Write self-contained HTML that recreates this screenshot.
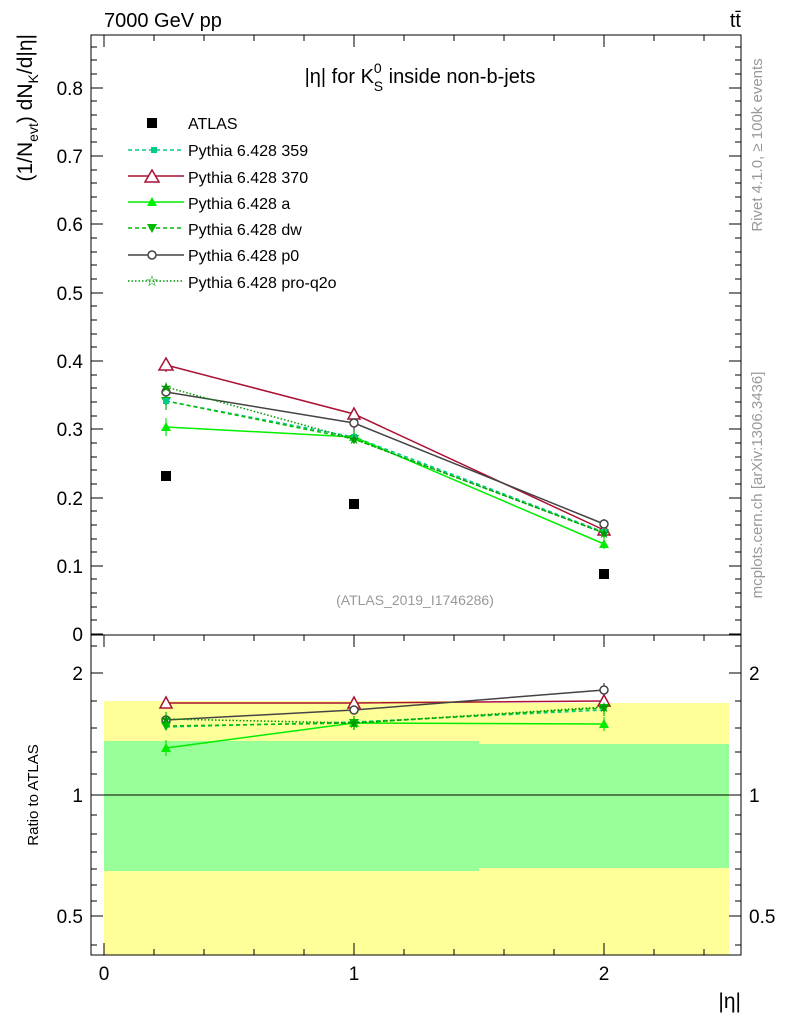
<!DOCTYPE html>
<html><head><style>body{margin:0;background:#fff}svg{display:block}text{font-family:"Liberation Sans",sans-serif}</style></head><body>
<svg width="786" height="1024" xmlns="http://www.w3.org/2000/svg">
<rect x="104" y="701" width="375" height="254" fill="#ffff99"/>
<rect x="479" y="703" width="250" height="252" fill="#ffff99"/>
<rect x="104" y="741" width="375" height="130" fill="#99ff99"/>
<rect x="479" y="744" width="250" height="124" fill="#99ff99"/>
<line x1="91" y1="795" x2="741" y2="795" stroke="#000"/>
<rect x="91" y="35" width="650" height="600" fill="none" stroke="#000"/>
<rect x="91" y="635" width="650" height="320" fill="none" stroke="#000"/>
<g stroke="#000">
<path d="M91,634h12M91,566h12M91,498h12M91,429h12M91,361h12M91,293h12M91,224h12M91,156h12M91,88h12"/>
<path d="M741,634h-12M741,566h-12M741,498h-12M741,429h-12M741,361h-12M741,293h-12M741,224h-12M741,156h-12M741,88h-12"/>
<path d="M91,620h6M91,607h6M91,593h6M91,579h6M91,552h6M91,539h6M91,525h6M91,511h6M91,484h6M91,470h6M91,457h6M91,443h6M91,416h6M91,402h6M91,388h6M91,375h6M91,347h6M91,334h6M91,320h6M91,306h6M91,279h6M91,265h6M91,252h6M91,238h6M91,211h6M91,197h6M91,183h6M91,170h6M91,142h6M91,129h6M91,115h6M91,101h6M91,74h6M91,60h6M91,47h6"/>
<path d="M741,620h-6M741,607h-6M741,593h-6M741,579h-6M741,552h-6M741,539h-6M741,525h-6M741,511h-6M741,484h-6M741,470h-6M741,457h-6M741,443h-6M741,416h-6M741,402h-6M741,388h-6M741,375h-6M741,347h-6M741,334h-6M741,320h-6M741,306h-6M741,279h-6M741,265h-6M741,252h-6M741,238h-6M741,211h-6M741,197h-6M741,183h-6M741,170h-6M741,142h-6M741,129h-6M741,115h-6M741,101h-6M741,74h-6M741,60h-6M741,47h-6"/>
<path d="M91,673h12M91,795h12M91,916h12M741,673h-12M741,795h-12M741,916h-12"/>
<path d="M91,646h6M91,701h6M91,728h6M91,752h6M91,774h6M91,815h6M91,834h6M91,852h6M91,869h6M91,885h6M91,901h6M91,945h6"/>
<path d="M741,646h-6M741,701h-6M741,728h-6M741,752h-6M741,774h-6M741,815h-6M741,834h-6M741,852h-6M741,869h-6M741,885h-6M741,901h-6M741,945h-6"/>
<path d="M104,955v-12M354,955v-12M604,955v-12M104,635v12M354,635v12M604,635v12M104,35v12M354,35v12M604,35v12"/>
<path d="M154,955v-6M204,955v-6M254,955v-6M304,955v-6M404,955v-6M454,955v-6M504,955v-6M554,955v-6M654,955v-6M704,955v-6"/>
<path d="M154,635v6M204,635v6M254,635v6M304,635v6M404,635v6M454,635v6M504,635v6M554,635v6M654,635v6M704,635v6"/>
<path d="M154,35v6M204,35v6M254,35v6M304,35v6M404,35v6M454,35v6M504,35v6M554,35v6M654,35v6M704,35v6"/>
</g>
<g font-size="19" text-anchor="end">
<text x="83" y="641">0</text><text x="83" y="573">0.1</text><text x="83" y="505">0.2</text><text x="83" y="436">0.3</text><text x="83" y="368">0.4</text><text x="83" y="300">0.5</text><text x="83" y="231">0.6</text><text x="83" y="163">0.7</text><text x="83" y="95">0.8</text>
<text x="83" y="680">2</text><text x="83" y="802">1</text><text x="83" y="923">0.5</text>
</g>
<g font-size="19"><text x="749" y="680">2</text><text x="749" y="802">1</text><text x="749" y="923">0.5</text></g>
<g font-size="19" text-anchor="middle"><text x="104" y="980">0</text><text x="354" y="980">1</text><text x="604" y="980">2</text></g>
<text x="741" y="1008" font-size="21" text-anchor="end">|η|</text>
<text x="104" y="27" font-size="20">7000 GeV pp</text>
<text x="741" y="27" font-size="20" text-anchor="end">tt̄</text>
<text x="420" y="83" font-size="20" text-anchor="middle">|η| for K<tspan font-size="14" dy="-10">0</tspan><tspan font-size="14" dx="-8" dy="18">S</tspan><tspan dy="-8"> inside non-b-jets</tspan></text>
<text x="415" y="605" font-size="14" fill="#999" text-anchor="middle">(ATLAS_2019_I1746286)</text>
<text transform="translate(32,34) rotate(-90)" font-size="21" text-anchor="end">(1/N<tspan font-size="14" dy="6">evt</tspan><tspan dy="-6">) dN</tspan><tspan font-size="14" dy="6">K</tspan><tspan dy="-6">/d|η|</tspan></text>
<text transform="translate(38,795) rotate(-90)" font-size="15" text-anchor="middle">Ratio to ATLAS</text>
<text transform="translate(762,145) rotate(-90)" font-size="15" fill="#999" text-anchor="middle">Rivet 4.1.0, ≥ 100k events</text>
<text transform="translate(762,485) rotate(-90)" font-size="15" fill="#999" text-anchor="middle">mcplots.cern.ch [arXiv:1306.3436]</text>
<g font-size="16">
<rect x="147" y="118" width="10" height="10"/><text x="188" y="129">ATLAS</text>
<path d="M128,150h56" stroke="#00cc88" stroke-dasharray="4,3" stroke-width="1.5"/><rect x="151" y="147" width="6" height="6" fill="#00cc88"/><text x="188" y="156">Pythia 6.428 359</text>
<path d="M128,176h56" stroke="#aa1133" stroke-width="1.5"/><path d="M152,170l7,12h-14z" fill="#fff" stroke="#aa1133" stroke-width="1.5"/><text x="188" y="183">Pythia 6.428 370</text>
<path d="M128,202h56" stroke="#00ee00" stroke-width="1.5"/><path d="M152,197l5,9h-10z" fill="#00ee00"/><text x="188" y="209">Pythia 6.428 a</text>
<path d="M128,228h56" stroke="#00bb00" stroke-dasharray="4,3" stroke-width="1.5"/><path d="M152,233l5,-9h-10z" fill="#00bb00"/><text x="188" y="235">Pythia 6.428 dw</text>
<path d="M128,255h56" stroke="#444" stroke-width="1.5"/><circle cx="152" cy="255" r="4" fill="#fff" stroke="#444" stroke-width="1.5"/><text x="188" y="261">Pythia 6.428 p0</text>
<path d="M128,281h56" stroke="#009900" stroke-dasharray="1.5,2" stroke-width="1.5"/><text x="152" y="286" font-size="15" fill="#009900" text-anchor="middle" font-family="DejaVu Sans">☆</text><text x="188" y="288">Pythia 6.428 pro-q2o</text>
</g>
<g stroke-width="1.2">
<path d="M166,358v14M354,408v12M604,524v12" stroke="#aa1133"/>
<path d="M166,418v18M354,430v14M604,537v12" stroke="#00ee00"/>
<path d="M166,392v18M354,430v14M604,526v12" stroke="#00bb00"/>
<path d="M166,385v14M354,416v14M604,519v12" stroke="#444"/>
</g>
<g fill="none" stroke-width="1.5">
<polyline points="166,401 354,437 604,532" stroke="#00cc88" stroke-dasharray="4,3"/>
<polyline points="166,365 354,414 604,530" stroke="#aa1133"/>
<polyline points="166,427 354,437 604,544" stroke="#00ee00"/>
<polyline points="166,401 354,439 604,533" stroke="#00bb00" stroke-dasharray="4,3"/>
<polyline points="166,392 354,423 604,524" stroke="#444"/>
<polyline points="166,387 354,439 604,533" stroke="#009900" stroke-dasharray="1.5,2"/>
</g>
<g fill="#000"><rect x="161" y="471" width="10" height="10"/><rect x="349" y="499" width="10" height="10"/><rect x="599" y="569" width="10" height="10"/></g>
<g stroke="#aa1133" stroke-width="1.5" fill="#fff"><path d="M166,358l7,12h-14z M354,408l6,11h-12z M604,524l6,11h-12z"/></g>
<g stroke="#444" stroke-width="1.5" fill="#fff"><circle cx="166" cy="392" r="4"/><circle cx="354" cy="423" r="4"/><circle cx="604" cy="524" r="4"/></g>
<g fill="#00ee00"><path d="M166,422l5,9h-10z M354,432l5,9h-10z M604,539l5,9h-10z"/></g>
<g fill="#00bb00"><path d="M166,406l5,-9h-10z M354,444l5,-9h-10z M604,538l5,-9h-10z"/></g>
<g fill="#00cc88"><rect x="163" y="398" width="6" height="6"/><rect x="351" y="434" width="6" height="6"/><rect x="601" y="529" width="6" height="6"/></g>
<g font-size="14" fill="#009900" text-anchor="middle" font-family="DejaVu Sans"><text x="166" y="392">★</text><text x="354" y="444">★</text><text x="604" y="538">★</text></g>
<g fill="none" stroke-width="1.5">
<polyline points="166,727 354,722 604,710" stroke="#00cc88" stroke-dasharray="4,3"/>
<polyline points="166,703 354,703 604,701" stroke="#aa1133"/>
<polyline points="166,748 354,723 604,724" stroke="#00ee00"/>
<polyline points="166,726 354,723 604,708" stroke="#00bb00" stroke-dasharray="4,3"/>
<polyline points="166,720 354,710 604,690" stroke="#444"/>
<polyline points="166,719 354,723 604,707" stroke="#009900" stroke-dasharray="1.5,2"/>
</g>
<g stroke-width="1.2">
<path d="M166,740v16M354,716v14M604,717v14" stroke="#00ee00"/>
<path d="M166,712v18M354,716v14M604,700v16" stroke="#00bb00"/>
<path d="M604,683v14" stroke="#444"/>
</g>
<g stroke="#aa1133" stroke-width="1.5" fill="#fff"><path d="M166,697l6,11h-12z M354,697l6,11h-12z M604,695l6,11h-12z"/></g>
<g stroke="#444" stroke-width="1.5" fill="#fff"><circle cx="166" cy="720" r="4"/><circle cx="354" cy="710" r="4"/><circle cx="604" cy="690" r="4"/></g>
<g fill="#00ee00"><path d="M166,743l5,9h-10z M354,718l5,9h-10z M604,719l5,9h-10z"/></g>
<g fill="#00bb00"><path d="M166,731l5,-9h-10z M354,728l5,-9h-10z M604,713l5,-9h-10z"/></g>
<g font-size="14" fill="#009900" text-anchor="middle" font-family="DejaVu Sans"><text x="166" y="724">★</text><text x="354" y="728">★</text><text x="604" y="712">★</text></g>
</svg>
</body></html>
